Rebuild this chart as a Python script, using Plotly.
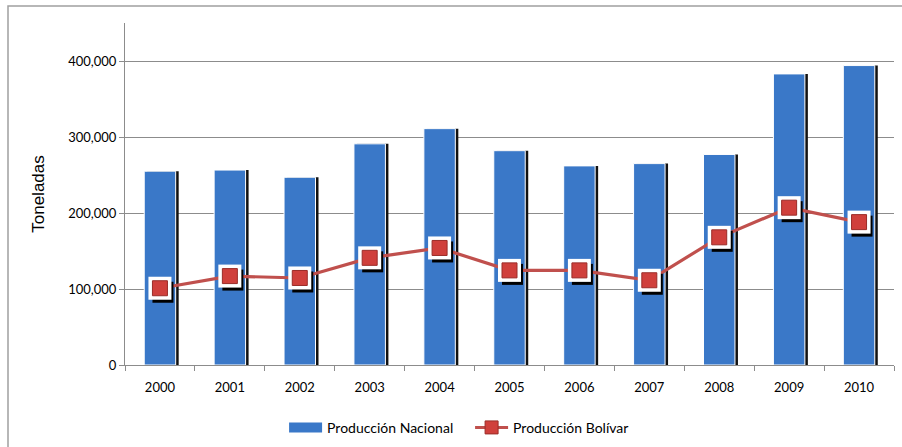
import plotly.graph_objects as go

years = ["2000", "2001", "2002", "2003", "2004", "2005", "2006", "2007", "2008", "2009", "2010"]
nacional = [255000, 256500, 247000, 291000, 311000, 282000, 262000, 265000, 277000, 383000, 394000]
bolivar = [101000, 117000, 114500, 141000, 154000, 124500, 124500, 111500, 168000, 207000, 188000]

W, H = 902, 447
ml, mr, mt, mb = 125, 5, 23, 78
pw = W - ml - mr
ph = H - mt - mb
dx = 3 / pw
dy = 4 / ph
YR = [0, 450000]
BW = 0.45
cat_px = pw * (1 - dx) / 11
BLUE = "#3a78c8"

fig = go.Figure()

# bar shadow (same axes, shifted by a few pixels)
fig.add_trace(go.Bar(x=years, y=nacional, width=BW, offset=-BW / 2 + 3 / cat_px,
                     marker=dict(color="#111111", line=dict(width=0)),
                     showlegend=False, hoverinfo="skip"))
# bars
fig.add_trace(go.Bar(x=years, y=nacional, name="Producción Nacional", width=BW,
                     marker=dict(color=BLUE, line=dict(color="#ffffff", width=1)),
                     showlegend=False))
# line
fig.add_trace(go.Scatter(x=years, y=bolivar, mode="lines",
                         line=dict(color="#c0504d", width=3.2),
                         showlegend=False, hoverinfo="skip"))
# marker shadow (shifted subplot)
fig.add_trace(go.Scatter(x=years, y=bolivar, mode="markers", xaxis="x2", yaxis="y2",
                         marker=dict(symbol="square", size=21, color="#000000"),
                         showlegend=False, hoverinfo="skip"))
# white backing (top subplot, same position as main)
fig.add_trace(go.Scatter(x=years, y=bolivar, mode="markers", xaxis="x3", yaxis="y3",
                         marker=dict(symbol="square", size=23, color="#ffffff"),
                         showlegend=False, hoverinfo="skip"))
# red markers
fig.add_trace(go.Scatter(x=years, y=bolivar, mode="markers", xaxis="x3", yaxis="y3",
                         name="Producción Bolívar",
                         marker=dict(symbol="square", size=15, color="#d0403c",
                                     line=dict(color="#9a2c28", width=1)),
                         showlegend=False))
# legend entries
fig.add_trace(go.Scatter(x=[None], y=[None], mode="lines", name="Producción Nacional",
                         line=dict(color=BLUE, width=10), legendrank=1))
fig.add_trace(go.Scatter(x=[None], y=[None], mode="lines+markers", name="Producción Bolívar",
                         line=dict(color="#c0504d", width=3),
                         marker=dict(symbol="square", size=13, color="#d0403c",
                                     line=dict(color="#9a2c28", width=1)),
                         legendrank=2))

fig.update_layout(
    width=W, height=H,
    margin=dict(l=ml, r=mr, t=mt, b=mb, autoexpand=False),
    paper_bgcolor="white", plot_bgcolor="rgba(0,0,0,0)",
    barmode="overlay",
    font=dict(family="Lato, 'Open Sans', sans-serif", size=13, color="#000000"),
    xaxis=dict(domain=[0, 1 - dx], range=[-0.5, 10.5], type="category",
               showgrid=False, showline=True, linecolor="#8c8c8c", linewidth=1,
               ticks="outside", tickson="boundaries", ticklen=5, tickcolor="#8c8c8c",
               ticklabelstandoff=10, anchor="y", tickfont=dict(size=13)),
    xaxis2=dict(domain=[dx, 1], range=[-0.5, 10.5], type="category",
                visible=False, anchor="y2"),
    xaxis3=dict(domain=[0, 1 - dx], range=[-0.5, 10.5], type="category",
                visible=False, anchor="y3"),
    yaxis=dict(domain=[dy, 1], range=YR, showgrid=True, gridcolor="#8c8c8c", gridwidth=1,
               showline=True, linecolor="#8c8c8c", linewidth=1, zeroline=False,
               ticks="outside", ticklen=5, tickcolor="#8c8c8c", dtick=100000,
               tickformat=",", tickfont=dict(size=13), anchor="x",
               title=dict(text="Toneladas", font=dict(family="Liberation Sans, Arial, sans-serif", size=17),
                          standoff=19)),
    yaxis2=dict(domain=[0, 1 - dy], range=YR, visible=False, anchor="x2"),
    yaxis3=dict(domain=[dy, 1], range=YR, visible=False, anchor="x3"),
    legend=dict(orientation="h", x=0.447, xanchor="center", y=-0.17, yanchor="middle",
                font=dict(size=14), itemwidth=33, entrywidth=138, traceorder="normal"),
    shapes=[dict(type="rect", xref="paper", yref="paper",
                 x0=(8 - ml) / pw, x1=(W + 5 - ml) / pw,
                 y0=-(mb + 10) / ph, y1=(H - mb - 6) / ph,
                 line=dict(color="#a0a0a0", width=1.5), fillcolor="rgba(0,0,0,0)", layer="below")],
)

fig.write_html("out.html")
